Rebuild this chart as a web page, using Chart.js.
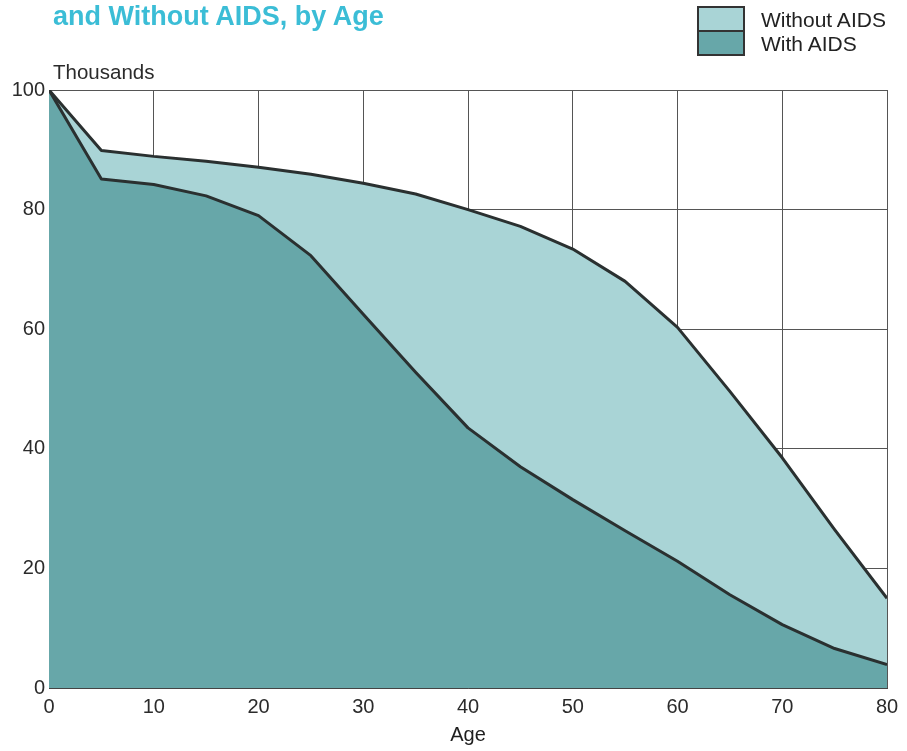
<!DOCTYPE html>
<html>
<head>
<meta charset="utf-8">
<script src="https://cdn.jsdelivr.net/npm/chart.js@4.4.1/dist/chart.umd.min.js"></script>
<style>
  html, body { margin: 0; padding: 0; background: #fff; }
  #wrap { position: relative; width: 907px; height: 751px; overflow: hidden; font-family: "Liberation Sans", Arial, sans-serif; }
  #title { position: absolute; left: 53px; top: 1px; font-size: 27px; font-weight: bold; color: #3bbdd6; white-space: nowrap; }
  #thousands { position: absolute; left: 53px; top: 60px; font-size: 20.5px; color: #2b2b2b; }
  .lgbox { position: absolute; left: 697px; width: 44px; border: 2px solid #333; }
  .lgtext { position: absolute; left: 761px; font-size: 21px; color: #222; white-space: nowrap; }
  canvas { position: absolute; left: 0; top: 0; }
</style>
</head>
<body>
<div id="wrap">
  <canvas id="chart" width="907" height="751"></canvas>
  <div id="title">and Without AIDS, by Age</div>
  <div id="thousands">Thousands</div>
  <div class="lgbox" style="top:6px;height:22px;background:#a9d4d6;border-bottom-width:1px;"></div>
  <div class="lgbox" style="top:31px;height:22px;background:#67a7a9;border-top-width:1px;"></div>
  <div class="lgtext" style="top:8px;">Without AIDS</div>
  <div class="lgtext" style="top:32px;">With AIDS</div>
</div>
<script>
// ages on the x axis
var ages = [0, 5, 10, 15, 20, 25, 30, 35, 40, 45, 50, 55, 60, 65, 70, 75, 80];
// survivors (thousands) out of 100
var withoutAids = [100, 89.9, 88.9, 88.1, 87.1, 85.9, 84.4, 82.6, 80.0, 77.2, 73.4, 68.0, 60.3, 49.6, 38.5, 26.5, 15.0];
var withAids = [100, 85.1, 84.2, 82.3, 79.0, 72.3, 62.5, 52.8, 43.5, 37.0, 31.5, 26.3, 21.2, 15.6, 10.6, 6.6, 3.9];

var LIGHT = '#a9d4d6';
var DARK = '#67a7a9';
var LINE = '#2a3030';

function toPoints(xs, ys) {
    var pts = [];
    for (var i = 0; i < xs.length; i++) {
        pts.push({ x: xs[i], y: ys[i] });
    }
    return pts;
}

var tickFont = { family: '"Liberation Sans", Arial, sans-serif', size: 20 };

var ctx = document.getElementById('chart');
new Chart(ctx, {
    type: 'line',
    data: {
        datasets: [{
                label: 'With AIDS',
                data: toPoints(ages, withAids),
                borderColor: LINE,
                borderWidth: 3,
                borderJoinStyle: 'round',
                backgroundColor: DARK,
                fill: 'origin',
                pointRadius: 0,
                tension: 0
            }, {
                label: 'Without AIDS',
                data: toPoints(ages, withoutAids),
                borderColor: LINE,
                borderWidth: 3,
                borderJoinStyle: 'round',
                backgroundColor: LIGHT,
                fill: 'origin',
                pointRadius: 0,
                tension: 0
            }]
    },
    options: {
        responsive: false,
        animation: false,
        layout: { padding: { top: 90, right: 20, left: 0, bottom: 0 } },
        plugins: {
            legend: { display: false },
            tooltip: { enabled: false }
        },
        scales: {
            x: {
                type: 'linear',
                min: 0,
                max: 80,
                ticks: { stepSize: 10, color: '#2b2b2b', font: tickFont, padding: 7 },
                grid: { color: '#555', lineWidth: 1, drawTicks: false },
                border: { color: '#444', width: 1 },
                title: { display: true, text: 'Age', color: '#1e1e1e', font: tickFont, padding: { top: 6 } },
                afterFit: function (scale) { scale.height = 63; }
            },
            y: {
                min: 0,
                max: 100,
                ticks: { stepSize: 20, color: '#2b2b2b', font: tickFont, padding: 4 },
                grid: { color: '#555', lineWidth: 1, drawTicks: false },
                border: { color: '#444', width: 1 },
                afterFit: function (scale) { scale.width = 49; }
            }
        }
    }
});
</script>
</body>
</html>
